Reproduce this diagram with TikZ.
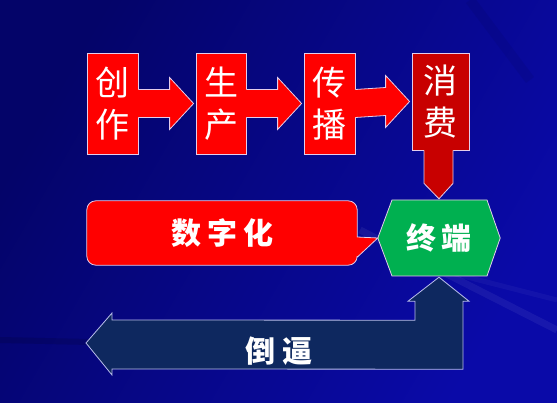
\documentclass[tikz,border=0pt]{standalone}
\usepackage{fontspec}
\newfontfamily\cjk{Noto Sans CJK SC}
\usetikzlibrary{calc}
\pgfdeclarelayer{bglayer}
\pgfdeclarelayer{shapelayer}
\pgfsetlayers{bglayer,shapelayer,main}
\definecolor{bgdark}{RGB}{4,4,105}
\definecolor{bglight}{RGB}{10,10,168}
\definecolor{redbox}{RGB}{255,0,0}
\definecolor{darkred}{RGB}{200,0,0}
\definecolor{termgreen}{RGB}{0,176,80}
\definecolor{navyarrow}{RGB}{14,40,95}
\definecolor{edgecol}{RGB}{228,205,235}
\definecolor{navyedge}{RGB}{185,190,235}
\begin{document}
\begin{tikzpicture}[x=1pt,y=-1pt,
  box/.style={draw=edgecol, line width=0.8pt, fill=redbox, text=white,
    minimum width=51pt, minimum height=101pt, inner sep=0pt,
    font=\cjk\fontsize{34}{42}\selectfont, align=center},
  label/.style={text=white, inner sep=0pt, font=\cjk\bfseries\fontsize{30}{34}\selectfont},
  flowarrow/.style={fill=redbox},
  flowedge/.style={draw=edgecol, line width=0.8pt, line join=miter},
]
\useasboundingbox (0,0) rectangle (557,403);
% background
\begin{pgfonlayer}{bglayer}
  \shade[shading=axis, top color=bgdark, bottom color=bglight, shading angle=60] (0,0) rectangle (557,403);
  \draw[white, opacity=0.06, line width=7pt] (360,230) -- (557,330);
  \draw[white, opacity=0.04, line width=5pt] (420,265) -- (557,300);
  \draw[black, opacity=0.12, line width=6pt] (0,340) -- (90,342);
  \draw[black, opacity=0.06, line width=10pt] (470,0) -- (530,80);
\end{pgfonlayer}

% top boxes
\node[box] (a) at (112.5,103.5) {创\\作};
\node[box, minimum width=50pt] (b) at (221,103.5) {生\\产};
\node[box] (c) at (329.5,103.5) {传\\播};
\node[box, fill=darkred, minimum width=57pt, minimum height=97pt] (d) at (440.5,101.5) {消\\费};

% arrows between boxes
\foreach \s/\t in {a/b,b/c,c/d}{
  \fill[flowarrow] ($(\s.east)+(-1,-14)$) -- ($(\t.west)+(-26,-14)$) -- ($(\t.west)+(-26,-26)$)
     -- ($(\t.west)+(-2,0)$) -- ($(\t.west)+(-26,26)$) -- ($(\t.west)+(-26,14)$) -- ($(\s.east)+(-1,14)$) -- cycle;
  \draw[flowedge] ($(\s.east)+(0,-14)$) -- ($(\t.west)+(-26,-14)$) -- ($(\t.west)+(-26,-26)$)
     -- ($(\t.west)+(-2,0)$) -- ($(\t.west)+(-26,26)$) -- ($(\t.west)+(-26,14)$) -- ($(\s.east)+(0,14)$);
}

% terminal hexagon node
\node[label, minimum width=122pt, minimum height=76pt] (t) at (439,238) {终\hspace{5pt}端};
% digitization callout node
\node[label, minimum width=270pt, minimum height=64pt] (z) at (222,233) {数\hspace{6pt}字\hspace{6pt}化};
% 倒逼 arrow tip and label
\coordinate (bl) at (86,343);
\node[label] (dao) at (279,351) {倒\hspace{8pt}逼};

% down arrow from 消费 to 终端
\fill[darkred] ($(d.south)+(-16.5,-1)$) -- ($(d.south)+(-16.5,33)$) -- ($(t.north)+(0,-1)$) -- ($(d.south)+(12.5,33)$) -- ($(d.south)+(12.5,-1)$) -- cycle;
\draw[flowedge] ($(d.south)+(-16.5,0)$) -- ($(d.south)+(-16.5,33)$) -- ($(t.north)+(0,-1)$) -- ($(d.south)+(12.5,33)$) -- ($(d.south)+(12.5,0)$);

\begin{pgfonlayer}{shapelayer}
  % hexagon
  \draw[fill=termgreen, draw=edgecol, line width=0.8pt]
    (t.west) -- ($(t.center)+(-47,-38)$) -- ($(t.center)+(48,-38)$) -- (t.east)
    -- ($(t.center)+(48,38)$) -- ($(t.center)+(-47,38)$) -- cycle;
  % callout
  \draw[fill=redbox, draw=edgecol, line width=0.8pt, rounded corners=9pt]
    (z.north west) -- (z.north east) -- ($(z.east)+(0,4)$) [sharp corners] -- ($(z.east)+(0,4)$)
    -- (t.west) -- ($(z.south east)+(0,-8)$) [rounded corners=9pt] -- (z.south east) -- (z.south west) -- cycle;
  % 倒逼 bent arrow
  \draw[fill=navyarrow, draw=navyedge, line width=0.8pt, line join=miter]
    (bl) -- ($(bl)+(26,-30)$) -- ($(bl)+(26,-23)$) -- ($(t.south)+(-24,44)$) -- ($(t.south)+(-24,25)$)
    -- ($(t.south)+(-31,25)$) -- ($(t.south)+(0,1)$) -- ($(t.south)+(30,25)$) -- ($(t.south)+(24,25)$)
    -- ($(t.south)+(24,93)$) -- ($(bl)+(26,26)$) -- ($(bl)+(26,32)$) -- cycle;
\end{pgfonlayer}
\end{tikzpicture}
\end{document}
